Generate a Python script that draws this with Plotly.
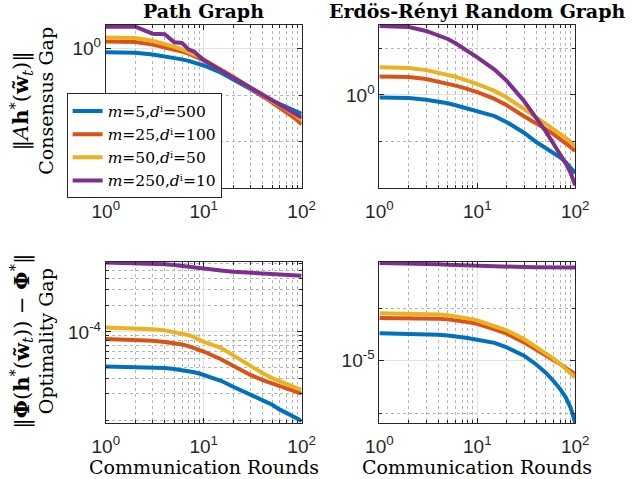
import plotly.graph_objects as go

rounds = [1, 2, 3, 4, 5, 6, 7, 8, 9, 10, 15, 20, 30, 40, 50, 60, 70, 80, 90, 100]

labels = [
    "<i>m</i>=5,<i>d</i>ⁱ=500",
    "<i>m</i>=25,<i>d</i>ⁱ=100",
    "<i>m</i>=50,<i>d</i>ⁱ=50",
    "<i>m</i>=250,<i>d</i>ⁱ=10",
]
colors = ["#0072BD", "#D95319", "#EDB120", "#7E2F8E"]

# path graph, consensus gap
path_cons_m5 = [0.82, 0.80, 0.74, 0.68, 0.63, 0.58, 0.54, 0.50, 0.46, 0.43,
                0.30, 0.22, 0.135, 0.094, 0.075, 0.063, 0.055, 0.049, 0.044, 0.040]
path_cons_m25 = [1.40, 1.36, 1.20, 1.06, 0.95, 0.85, 0.77, 0.69, 0.62, 0.55,
                 0.35, 0.245, 0.142, 0.095, 0.070, 0.054, 0.043, 0.035, 0.029, 0.024]
path_cons_m50 = [1.70, 1.66, 1.45, 1.25, 1.08, 0.95, 0.84, 0.74, 0.66, 0.58,
                 0.36, 0.25, 0.145, 0.098, 0.075, 0.060, 0.050, 0.042, 0.035, 0.030]
path_cons_m250 = [2.9, 2.9, 2.05, 2.0, 1.35, 1.3, 0.95, 0.85, 0.68, 0.56,
                  0.34, 0.24, 0.145, 0.100, 0.078, 0.063, 0.053, 0.045, 0.038, 0.033]

# Erdos-Renyi graph, consensus gap
er_cons_m5 = [0.88, 0.86, 0.79, 0.72, 0.66, 0.60, 0.55, 0.51, 0.475, 0.45,
              0.35, 0.26, 0.155, 0.098, 0.072, 0.058, 0.046, 0.036, 0.028, 0.021]
er_cons_m25 = [2.47, 2.42, 2.2, 1.95, 1.75, 1.58, 1.45, 1.33, 1.23, 1.15,
               0.82, 0.60, 0.35, 0.25, 0.185, 0.145, 0.115, 0.092, 0.076, 0.063]
er_cons_m50 = [3.92, 3.75, 3.4, 3.0, 2.7, 2.45, 2.2, 2.0, 1.85, 1.7,
               1.22, 0.88, 0.50, 0.33, 0.245, 0.19, 0.15, 0.12, 0.097, 0.078]
er_cons_m250 = [30, 28.5, 23.5, 19.3, 15.8, 12.8, 10.5, 8.8, 7.4, 6.4,
                3.5, 2.0, 0.74, 0.33, 0.165, 0.09, 0.054, 0.034, 0.021, 0.0115]

# path graph, optimality gap
path_opt_m5 = [4.05e-5, 4.0e-5, 3.95e-5, 3.9e-5, 3.8e-5, 3.7e-5, 3.6e-5, 3.5e-5, 3.38e-5, 3.26e-5,
               2.8e-5, 2.4e-5, 1.94e-5, 1.71e-5, 1.5e-5, 1.32e-5, 1.22e-5, 1.13e-5, 1.05e-5, 9.8e-6]
path_opt_m25 = [8.3e-5, 8.2e-5, 7.95e-5, 7.7e-5, 7.45e-5, 7.2e-5, 6.9e-5, 6.6e-5, 6.3e-5, 6.0e-5,
                4.9e-5, 4.1e-5, 3.26e-5, 2.85e-5, 2.6e-5, 2.4e-5, 2.28e-5, 2.17e-5, 2.08e-5, 2.0e-5]
path_opt_m50 = [1.12e-4, 1.10e-4, 1.07e-4, 1.04e-4, 1.0e-4, 9.6e-5, 9.2e-5, 8.7e-5, 8.2e-5, 7.7e-5,
                6.6e-5, 5.4e-5, 4.05e-5, 3.4e-5, 3.0e-5, 2.75e-5, 2.55e-5, 2.4e-5, 2.3e-5, 2.2e-5]
path_opt_m250 = [6.1e-4, 6.0e-4, 5.9e-4, 5.8e-4, 5.7e-4, 5.55e-4, 5.4e-4, 5.3e-4, 5.2e-4, 5.15e-4,
                 4.95e-4, 4.8e-4, 4.65e-4, 4.55e-4, 4.5e-4, 4.45e-4, 4.4e-4, 4.35e-4, 4.32e-4, 4.3e-4]

# Erdos-Renyi graph, optimality gap
er_opt_m5 = [3.35e-5, 3.3e-5, 3.2e-5, 3.15e-5, 3.05e-5, 2.95e-5, 2.85e-5, 2.72e-5, 2.6e-5, 2.5e-5,
             2.2e-5, 1.8e-5, 1.25e-5, 8.5e-6, 5.9e-6, 4.1e-6, 2.9e-6, 2.0e-6, 1.25e-6, 6.5e-7]
er_opt_m25 = [6.6e-5, 6.55e-5, 6.5e-5, 6.4e-5, 6.2e-5, 6.0e-5, 5.75e-5, 5.5e-5, 5.3e-5, 5.1e-5,
              4.0e-5, 3.3e-5, 2.25e-5, 1.65e-5, 1.3e-5, 1.05e-5, 8.7e-6, 7.3e-6, 6.3e-6, 5.55e-6]
er_opt_m50 = [8.1e-5, 8.0e-5, 7.85e-5, 7.7e-5, 7.4e-5, 7.1e-5, 6.8e-5, 6.5e-5, 6.2e-5, 5.9e-5,
              4.6e-5, 3.8e-5, 2.6e-5, 1.85e-5, 1.4e-5, 1.1e-5, 8.8e-6, 7.0e-6, 5.8e-6, 4.8e-6]
er_opt_m250 = [7.4e-4, 7.35e-4, 7.2e-4, 7.0e-4, 6.9e-4, 6.8e-4, 6.7e-4, 6.6e-4, 6.55e-4, 6.5e-4,
               6.4e-4, 6.3e-4, 6.2e-4, 6.15e-4, 6.12e-4, 6.1e-4, 6.1e-4, 6.1e-4, 6.1e-4, 6.1e-4]

panels = [
    ("x", "y", [path_cons_m5, path_cons_m25, path_cons_m50, path_cons_m250]),
    ("x2", "y2", [er_cons_m5, er_cons_m25, er_cons_m50, er_cons_m250]),
    ("x3", "y3", [path_opt_m5, path_opt_m25, path_opt_m50, path_opt_m250]),
    ("x4", "y4", [er_opt_m5, er_opt_m25, er_opt_m50, er_opt_m250]),
]

SERIF = "DejaVu Serif"
SANS = "Liberation Sans"
AXIS_COLOR = "#262626"

fig = go.Figure()
for k, (xa, ya, series) in enumerate(panels):
    for name, color, vals in zip(labels, colors, series):
        fig.add_trace(go.Scatter(
            x=rounds, y=vals, xaxis=xa, yaxis=ya, mode="lines",
            line=dict(color=color, width=4),
            name=name, showlegend=(k == 0),
        ))


def sup_label(exp):
    return f"10<sup>{exp}</sup>"


def log_axis(domain, rng, major, major_text, minor_vals, anchor, standoff=0):
    return dict(
        type="log", domain=domain, range=rng, anchor=anchor,
        tickvals=major, ticktext=major_text, ticklabelstandoff=standoff,
        ticks="inside", ticklen=5, tickwidth=1, tickcolor=AXIS_COLOR,
        showline=True, linecolor=AXIS_COLOR, linewidth=1, mirror="ticks",
        showgrid=True, gridcolor="#e2e2e2", gridwidth=1,
        zeroline=False,
        tickfont=dict(family=SANS, size=19, color=AXIS_COLOR),
        minor=dict(tickvals=minor_vals, ticks="inside", ticklen=3,
                   tickcolor=AXIS_COLOR, showgrid=True, griddash="dot",
                   gridcolor="#b5b5b5", gridwidth=1),
    )


x_minor = [2, 3, 4, 5, 6, 7, 8, 9, 20, 30, 40, 50, 60, 70, 80, 90]
x_major = [1, 10, 100]
x_text = [sup_label(0), sup_label(1), sup_label(2)]

left = [0.150, 0.470]
right = [0.597, 0.917]
top = [0.607, 0.948]
bottom = [0.117, 0.453]

y3_minor = [k * 1e-5 for k in range(1, 10)] + [k * 1e-4 for k in range(2, 7)]

fig.update_layout(
    xaxis=log_axis(left, [0, 2], x_major, x_text, x_minor, "y", 6),
    yaxis=log_axis(top, [-2.99, 0.5], [1], [sup_label(0)], [0.1, 0.01, 0.001], "x"),
    xaxis2=log_axis(right, [0, 2], x_major, x_text, x_minor, "y2", 6),
    yaxis2=log_axis(top, [-2.0, 1.5], [1], [sup_label(0)], [10, 0.1, 0.01], "x2"),
    xaxis3=log_axis(left, [0, 2], x_major, x_text, x_minor, "y3", 6),
    yaxis3=log_axis(bottom, [-5.03, -3.21], [1e-4], [sup_label(-4)], y3_minor, "x3"),
    xaxis4=log_axis(right, [0, 2], x_major, x_text, x_minor, "y4", 6),
    yaxis4=log_axis(bottom, [-6.19, -3.11], [1e-5], [sup_label(-5)], [1e-4, 1e-6], "x4"),
)

title_font = dict(family=SERIF, size=19, color="black")
label_font = dict(family=SERIF, size=19, color="black")
math = '<span style="font-size:21px">{}</span>'
notes = [
    dict(text="<b>Path Graph</b>", x=0.310, y=0.976, font=title_font),
    dict(text="<b>Erdös-Rényi Random Graph</b>", x=0.757, y=0.976, font=title_font),
    dict(text="Communication Rounds", x=0.310, y=0.026, font=label_font),
    dict(text="Communication Rounds", x=0.757, y=0.026, font=label_font),
    dict(text=math.format("‖<i>A</i><b>h</b><sup>*</sup>(<b>w̃</b><sub><i>t</i></sub>)‖")
         + "<br>Consensus Gap",
         x=0.029, y=0.789, textangle=-90, font=label_font),
    dict(text=math.format("‖<b>Φ</b>(<b>h</b><sup>*</sup>(<b>w̃</b><sub><i>t</i></sub>)) − <b>Φ</b><sup>*</sup>‖")
         + "<br>Optimality Gap",
         x=0.029, y=0.288, textangle=-90, font=label_font),
]
for n in notes:
    fig.add_annotation(xref="paper", yref="paper", showarrow=False,
                       xanchor="center", yanchor="middle", **n)

fig.update_layout(
    width=640, height=479,
    margin=dict(l=0, r=0, t=0, b=0),
    paper_bgcolor="white", plot_bgcolor="white",
    legend=dict(x=0.086, y=0.805, xanchor="left", yanchor="top",
                bgcolor="white", bordercolor=AXIS_COLOR, borderwidth=1,
                font=dict(family=SERIF, size=15.5, color="black"),
                tracegroupgap=0, itemwidth=30),
)

# drop the default body margin so the figure sits at the window origin
fig.write_html("out.html", config={"displayModeBar": False},
               post_script="document.body.style.margin = '0';")
